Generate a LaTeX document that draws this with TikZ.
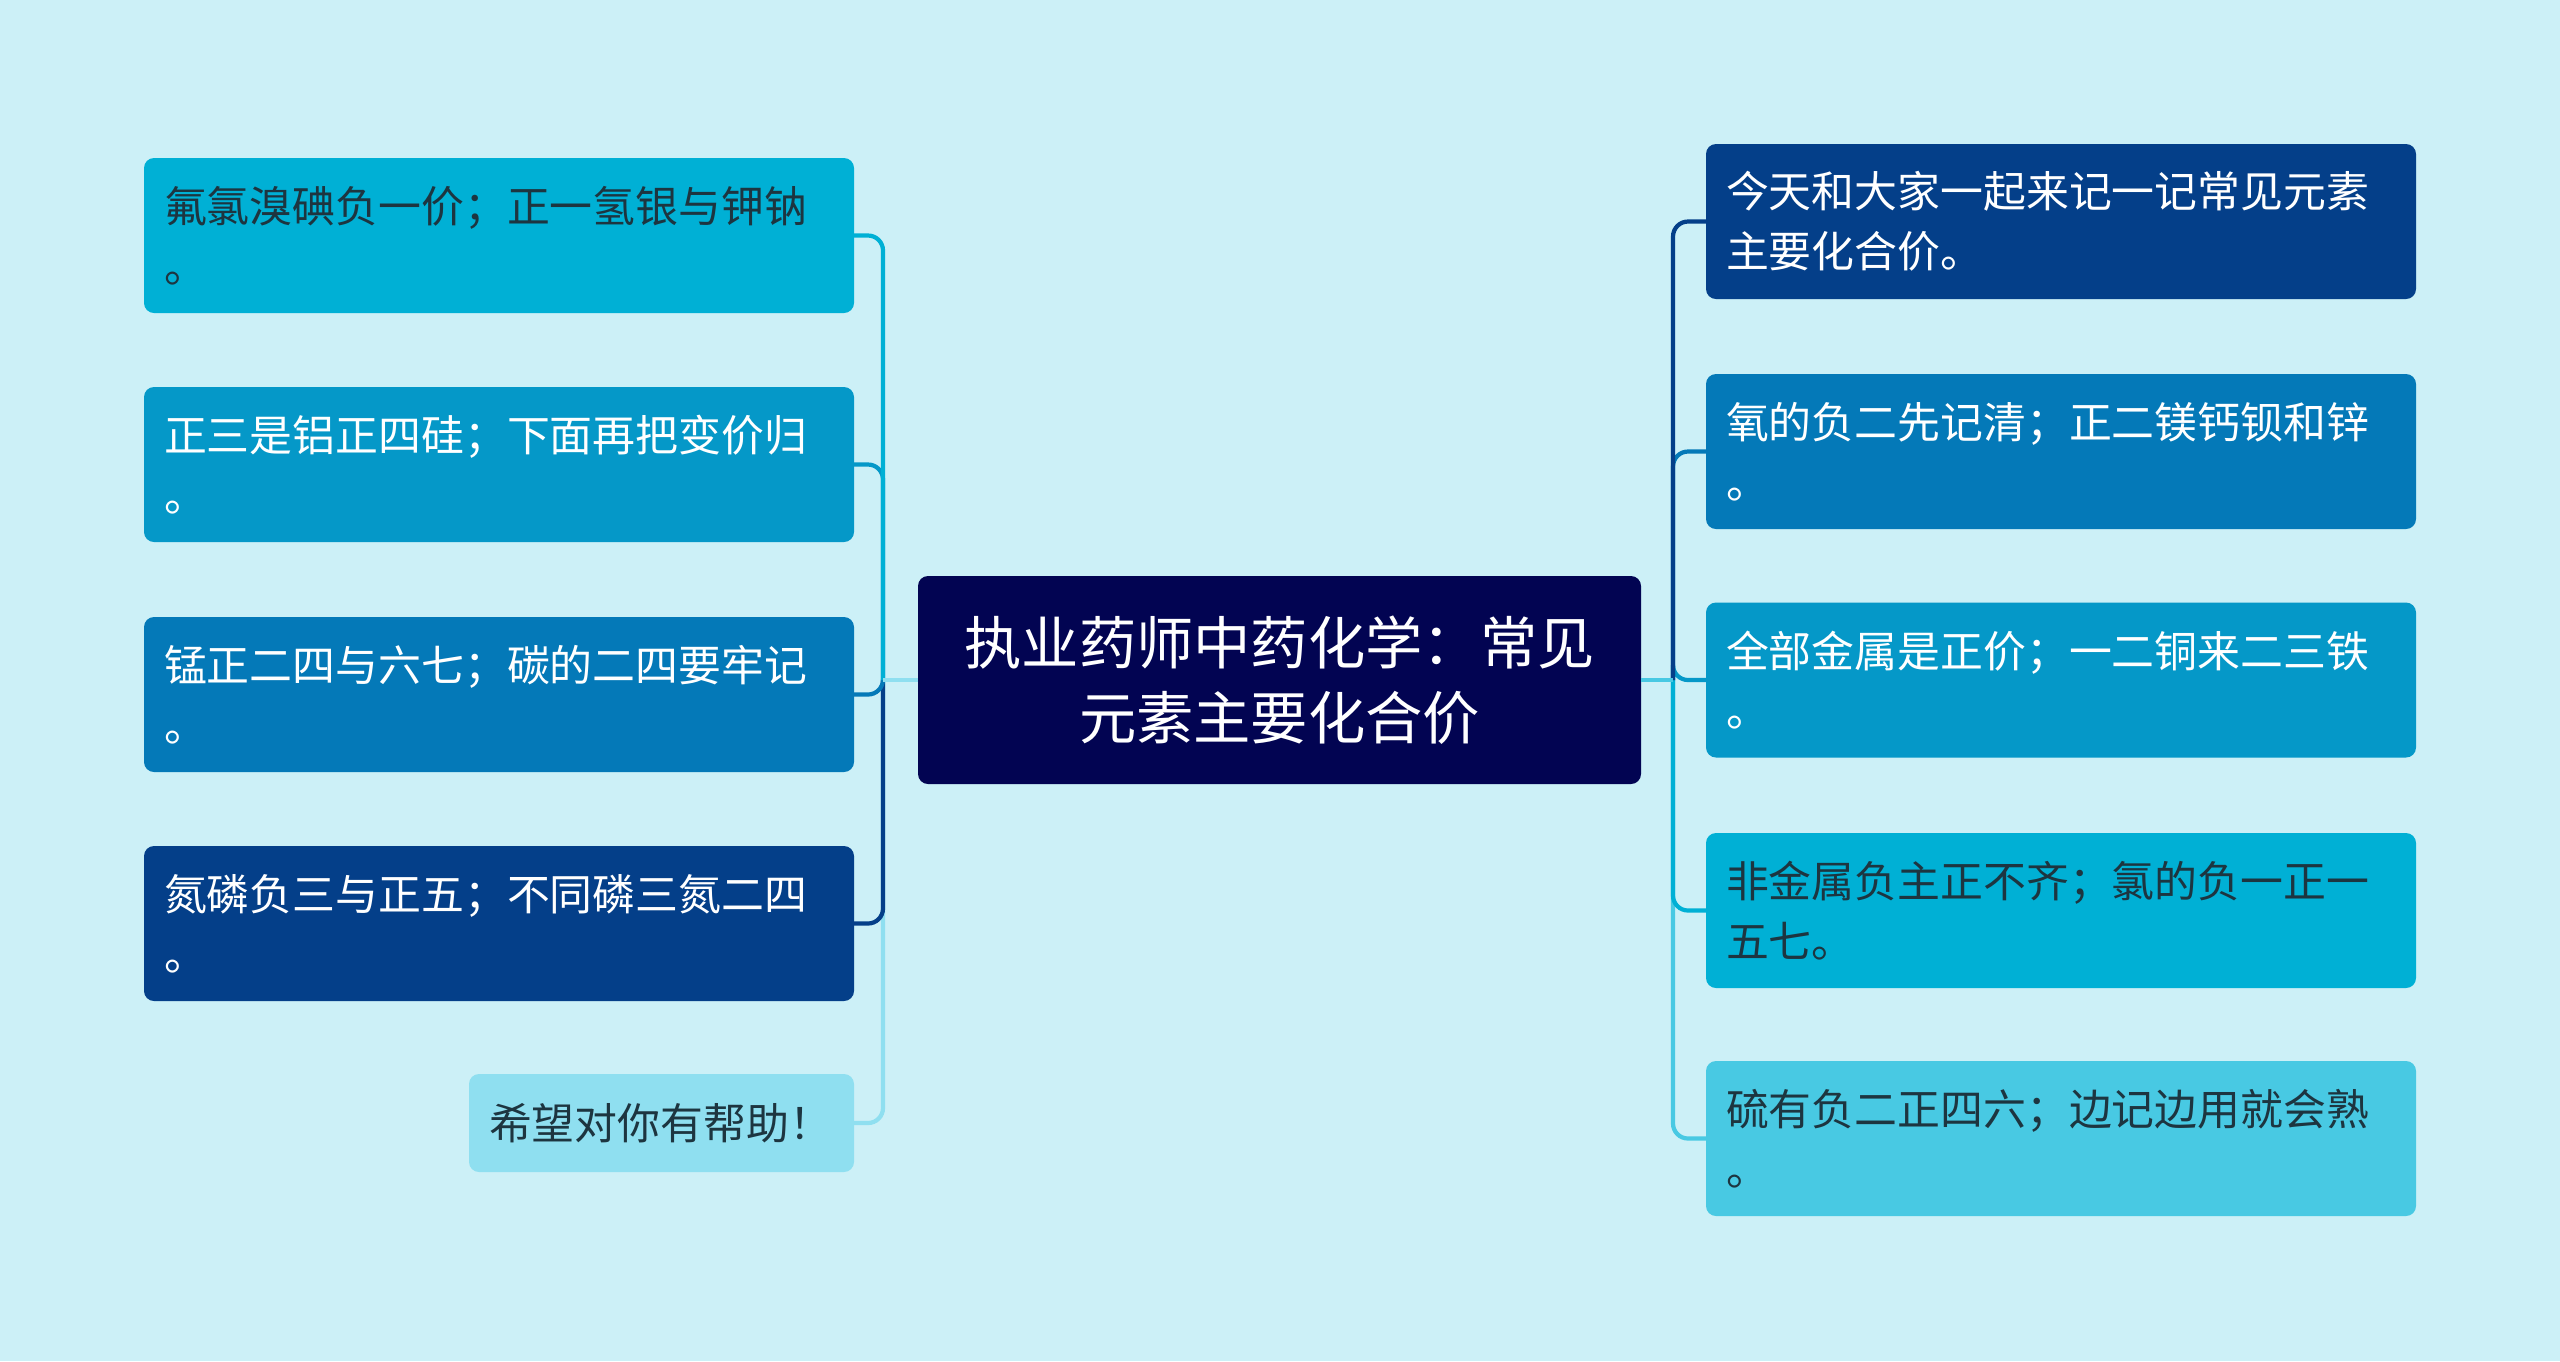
\documentclass[tikz,border=0pt]{standalone}
\usepackage{fontspec}
\newfontfamily\cjk{Noto Sans CJK SC}
\definecolor{bgcol}{RGB}{204,240,247}
\definecolor{hubcol}{RGB}{2,4,82}
\definecolor{cA}{RGB}{0,176,213}
\definecolor{cB}{RGB}{5,152,200}
\definecolor{cC}{RGB}{4,121,184}
\definecolor{cD}{RGB}{4,63,137}
\definecolor{cE}{RGB}{143,223,240}
\definecolor{cF}{RGB}{72,201,227}
\definecolor{txtdark}{RGB}{29,53,64}
\newcommand\leaffont{\cjk\fontsize{12.2}{17}\selectfont}
\newcommand\hubfont{\cjk\fontsize{16.3}{21.5}\selectfont}

\begin{document}
\begin{tikzpicture}[
  leaf/.style={rounded corners=0.1cm,inner xsep=0.2cm,inner ysep=0pt,outer sep=0pt,
    minimum height=1.55cm,text width=6.7cm,align=left,font=\leaffont},
  hub/.style={rounded corners=0.1cm,fill=hubcol,text=white,inner sep=0pt,outer sep=0pt,
    minimum width=7.23cm,minimum height=2.08cm,align=center,font=\hubfont},
  link/.style={line width=1.2pt,rounded corners=0.15cm}]
\fill[bgcol] (0,0) rectangle (25.6,-13.61);
\node[hub] (root) at (12.795,-6.80) {执业药师中药化学：常见\\元素主要化合价};
% left branch
\foreach \i/\y/\c/\tc/\lab in {1/2.355/cA/txtdark/{氟氯溴碘负一价；正一氢银与钾钠\\。},
  2/4.645/cB/white/{正三是铝正四硅；下面再把变价归\\。},
  3/6.945/cC/white/{锰正二四与六七；碳的二四要牢记\\。},
  4/9.235/cD/white/{氮磷负三与正五；不同磷三氮二四\\。}} {
  \node[leaf,fill=\c,text=\tc,anchor=east] (l\i) at (8.54,-\y) {\lab};
}
\node[leaf,fill=cE,text=txtdark,anchor=east,minimum height=0.98cm,text width=3.45cm] (l5) at (8.54,-11.23) {希望对你有帮助！};
% right branch
\foreach \i/\y/\c/\tc/\lab in {1/2.215/cD/white/{今天和大家一起来记一记常见元素\\主要化合价。},
  2/4.515/cC/white/{氧的负二先记清；正二镁钙钡和锌\\。},
  3/6.80/cB/white/{全部金属是正价；一二铜来二三铁\\。},
  4/9.105/cA/txtdark/{非金属负主正不齐；氯的负一正一\\五七。},
  5/11.385/cF/txtdark/{硫有负二正四六；边记边用就会熟\\。}} {
  \node[leaf,fill=\c,text=\tc,anchor=west] (r\i) at (17.06,-\y) {\lab};
}
% links
\coordinate (tl) at ([xshift=-0.35cm]root.west);
\coordinate (tr) at ([xshift=0.32cm]root.east);
\foreach \i/\c in {5/cE,4/cD,3/cC,2/cB,1/cA} {
  \draw[link,\c] (tl) |- (l\i.east);
}
\foreach \i/\c in {5/cF,4/cA,3/cB,2/cC,1/cD} {
  \draw[link,\c] (tr) |- (r\i.west);
}
\draw[link,cE] (root.west) -- (tl);
\draw[link,cF] (root.east) -- (tr);
\end{tikzpicture}
\end{document}
